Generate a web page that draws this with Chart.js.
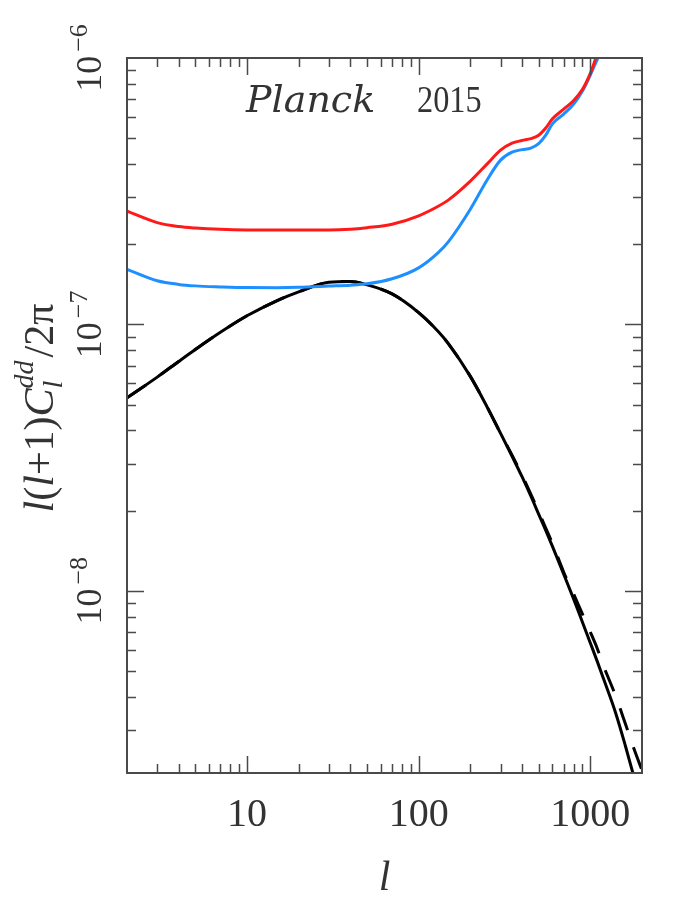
<!DOCTYPE html>
<html>
<head>
<meta charset="utf-8">
<script src="https://cdn.jsdelivr.net/npm/chart.js@4.4.1/dist/chart.umd.min.js"></script>
<style>
  html, body { margin: 0; padding: 0; background: #fff; }
  #wrap { width: 675px; height: 905px; }
</style>
</head>
<body>
<div id="wrap"><canvas id="cl"></canvas></div>
<script>
// multipoles where the spectra are sampled
var ells = [2, 3, 4, 5, 7, 10, 15, 20, 30, 40, 50, 70, 100, 130, 150, 200, 250, 300, 350,
            400, 450, 500, 550, 600, 700, 800, 900, 1000, 1100, 1200, 1400, 1600, 1800, 2000];

// l(l+1)C_l^dd/2pi, red and blue run off the top after l ~ 1100
var clRed = [2.66e-7, 2.41e-7, 2.33e-7, 2.30e-7, 2.274e-7, 2.262e-7, 2.26e-7, 2.26e-7, 2.26e-7,
             2.275e-7, 2.306e-7, 2.376e-7, 2.557e-7, 2.777e-7, 2.94e-7, 3.45e-7, 3.996e-7, 4.51e-7,
             4.79e-7, 4.90e-7, 4.98e-7, 5.13e-7, 5.46e-7, 5.90e-7, 6.43e-7, 6.93e-7, 7.63e-7,
             8.76e-7, 1.035e-6, 1.16e-6];
var clBlue = [1.61e-7, 1.459e-7, 1.413e-7, 1.395e-7, 1.383e-7, 1.375e-7, 1.374e-7, 1.378e-7, 1.393e-7,
              1.404e-7, 1.42e-7, 1.483e-7, 1.63e-7, 1.858e-7, 2.055e-7, 2.706e-7, 3.478e-7, 4.136e-7,
              4.432e-7, 4.529e-7, 4.589e-7, 4.77e-7, 5.134e-7, 5.648e-7, 6.16e-7, 6.716e-7, 7.514e-7,
              8.63e-7, 9.91e-7, 1.12e-6];
var clSignal = [5.30e-8, 6.34e-8, 7.26e-8, 8.05e-8, 9.34e-8, 1.077e-7, 1.229e-7, 1.325e-7, 1.439e-7,
                1.449e-7, 1.408e-7, 1.301e-7, 1.107e-7, 9.40e-8, 8.42e-8, 6.38e-8, 4.91e-8, 3.90e-8,
                3.20e-8, 2.68e-8, 2.27e-8, 1.94e-8, 1.684e-8, 1.474e-8, 1.154e-8, 9.30e-9, 7.62e-9,
                6.37e-9, 5.41e-9, 4.63e-9, 3.50e-9, 2.62e-9, 1.99e-9, 1.57e-9];
var clSignalAlt = [5.30e-8, 6.34e-8, 7.26e-8, 8.05e-8, 9.34e-8, 1.077e-7, 1.229e-7, 1.325e-7, 1.439e-7,
                   1.449e-7, 1.408e-7, 1.301e-7, 1.107e-7, 9.40e-8, 8.42e-8, 6.38e-8, 4.91e-8, 3.90e-8,
                   3.23e-8, 2.716e-8, 2.306e-8, 1.98e-8, 1.72e-8, 1.512e-8, 1.174e-8, 9.71e-9, 8.17e-9,
                   7.00e-9, 6.05e-9, 5.18e-9, 4.05e-9, 3.17e-9, 2.54e-9, 2.12e-9];

var xTicks = [10, 100, 1000];
var yTicks = [1e-8, 1e-7, 1e-6];
var xRange = [2, 2000];
var yRange = [2.07e-9, 1e-6];

function points(vals) {
  return vals.map(function(v, i) { return { x: ells[i], y: v }; });
}

var SERIF = '"Liberation Serif", "DejaVu Serif", serif';

// draws frame, inward ticks on all four sides, tick labels and titles
var axesFrame = {
  id: 'axesFrame',
  afterDatasetsDraw: function(chart) {
    var ctx = chart.ctx, a = chart.chartArea;
    var xs = chart.scales.x, ys = chart.scales.y;
    ctx.save();
    ctx.strokeStyle = '#4a4a4a';
    ctx.lineWidth = 2;
    ctx.strokeRect(a.left, a.top, a.right - a.left, a.bottom - a.top);

    ctx.lineWidth = 1.5;
    ctx.beginPath();
    for (var d = 0; d <= 3; d++) {
      for (var m = 1; m <= 9; m++) {
        var v = m * Math.pow(10, d);
        if (v <= xRange[0] || v >= xRange[1]) continue;
        var px = Math.round(xs.getPixelForValue(v)) + 0.5;
        var len = m === 1 ? 17 : 9;
        ctx.moveTo(px, a.bottom); ctx.lineTo(px, a.bottom - len);
        ctx.moveTo(px, a.top); ctx.lineTo(px, a.top + len);
      }
    }
    for (var e = -9; e <= -6; e++) {
      for (var k = 1; k <= 9; k++) {
        var w = k * Math.pow(10, e);
        if (w <= yRange[0] || w >= yRange[1]) continue;
        var py = Math.round(ys.getPixelForValue(w)) + 0.5;
        var ln = k === 1 ? 17 : 9;
        ctx.moveTo(a.left, py); ctx.lineTo(a.left + ln, py);
        ctx.moveTo(a.right, py); ctx.lineTo(a.right - ln, py);
      }
    }
    ctx.stroke();

    ctx.fillStyle = '#333';
    ctx.textAlign = 'center';
    ctx.textBaseline = 'alphabetic';
    ctx.font = '40px ' + SERIF;
    xTicks.forEach(function(v) {
      ctx.fillText(String(v), xs.getPixelForValue(v), 826);
    });

    // y labels read upward: 10 with a raised exponent
    yTicks.forEach(function(v) {
      var py = ys.getPixelForValue(v);
      var sup = '\u2212' + Math.abs(Math.round(Math.log10(v)));
      ctx.font = '36px ' + SERIF;
      var wb = ctx.measureText('10').width;
      ctx.font = '26px ' + SERIF;
      var we = ctx.measureText(sup).width;
      var total = wb + 4 + we;
      ctx.save();
      ctx.translate(101, py);
      ctx.rotate(-Math.PI / 2);
      ctx.textAlign = 'left';
      ctx.font = '36px ' + SERIF;
      ctx.fillText('10', -total / 2, 0);
      ctx.font = '26px ' + SERIF;
      ctx.fillText(sup, -total / 2 + wb + 4, -14);
      ctx.restore();
    });

    // x title
    ctx.font = 'italic 42px ' + SERIF;
    ctx.textAlign = 'center';
    ctx.fillText('l', (a.left + a.right) / 2, 890);

    // y title: l(l+1) C_l^dd / 2pi
    var big = 42, small = 28;
    var parts = [
      { t: 'l', f: 'italic ' + big + 'px ' + SERIF, dy: 0 },
      { t: '(', f: big + 'px ' + SERIF, dy: 0 },
      { t: 'l', f: 'italic ' + big + 'px ' + SERIF, dy: 0 },
      { t: '+1)', f: big + 'px ' + SERIF, dy: 0 },
      { t: 'C', f: 'italic ' + big + 'px ' + SERIF, dy: 0 },
      { t: 'l', f: 'italic ' + small + 'px ' + SERIF, dy: 9, stack: true },
      { t: 'dd', f: 'italic ' + small + 'px ' + SERIF, dy: -20 },
      { t: '/2\u03c0', f: big + 'px ' + SERIF, dy: 0, gap: 3 }
    ];
    var widths = parts.map(function(p) { ctx.font = p.f; return ctx.measureText(p.t).width; });
    var totalW = 0;
    parts.forEach(function(p, i) {
      if (p.stack) return;
      totalW += widths[i] + (p.gap || 0);
    });
    ctx.save();
    ctx.translate(53, 408);
    ctx.rotate(-Math.PI / 2);
    ctx.textAlign = 'left';
    var cx = -totalW / 2;
    parts.forEach(function(p, i) {
      ctx.font = p.f;
      cx += (p.gap || 0);
      ctx.fillText(p.t, cx, p.dy);
      if (!p.stack) cx += widths[i];
    });
    ctx.restore();

    // figure label, year set a little narrow
    ctx.textAlign = 'left';
    ctx.font = 'italic 38px "DejaVu Serif", serif';
    ctx.fillText('Planck', 246, 112);
    ctx.save();
    ctx.translate(417, 112);
    ctx.scale(0.85, 1);
    ctx.font = '38px ' + SERIF;
    ctx.fillText('2015', 0, 0);
    ctx.restore();
    ctx.restore();
  }
};

function line(vals, color, dash) {
  return {
    data: points(vals),
    borderColor: color,
    borderWidth: 3,
    borderDash: dash || [],
    pointRadius: 0,
    fill: false,
    cubicInterpolationMode: 'monotone',
    clip: 0
  };
}

new Chart(document.getElementById('cl'), {
  type: 'line',
  data: {
    datasets: [
      line(clRed, '#ff1a1a'),
      line(clBlue, '#1e8fff'),
      line(clSignal, '#000'),
      line(clSignalAlt, '#000', [23, 18])
    ]
  },
  options: {
    responsive: true,
    maintainAspectRatio: false,
    animation: false,
    devicePixelRatio: 1,
    layout: { padding: { left: 127, right: 33, top: 58, bottom: 132 } },
    plugins: { legend: { display: false }, tooltip: { enabled: false } },
    scales: {
      x: { type: 'logarithmic', min: xRange[0], max: xRange[1], display: false },
      y: { type: 'logarithmic', min: yRange[0], max: yRange[1], display: false }
    }
  },
  plugins: [axesFrame]
});
</script>
</body>
</html>
